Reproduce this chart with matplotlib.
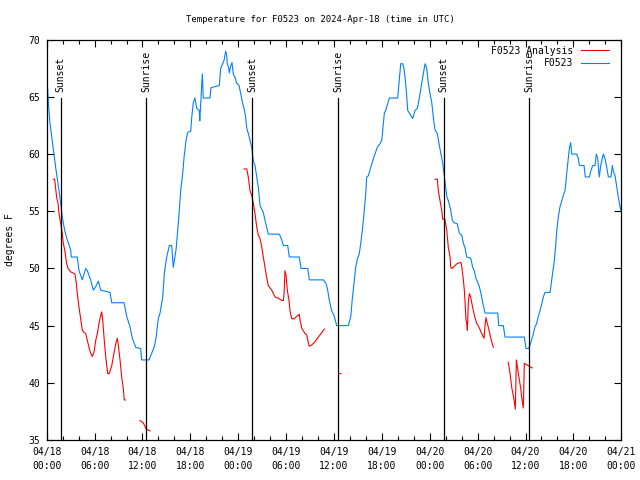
import numpy as np
import matplotlib
matplotlib.use("Agg")
import matplotlib.pyplot as plt
import matplotlib.transforms as mtransforms
from matplotlib.ticker import MultipleLocator, FixedLocator

# hours since 2024-04-18 00:00 UTC
obs_hours = [0.08, 0.25, 0.41, 0.58, 0.91, 1.13, 1.54, 1.75, 1.95, 2.26, 2.58, 3.01, 3.08, 3.83,
             4.05, 4.46, 4.89, 5.09, 5.51, 5.84, 6.14, 6.47, 6.77, 7.93, 8.15, 9.69, 10.03, 10.44,
             10.73, 11.15, 11.78, 11.90, 12.82, 13.45, 13.70, 13.98, 14.20, 14.54, 14.74, 15.04,
             15.36, 15.66, 15.86, 16.20, 16.49, 16.79, 17.04, 17.21, 17.46, 17.67, 18.05, 18.17,
             18.37, 18.58, 18.80, 19.12, 19.18, 19.34, 19.50, 19.62, 20.46, 20.59, 21.63, 21.80,
             22.06, 22.22, 22.43, 22.56, 22.63, 22.81, 22.88, 23.06, 23.22, 23.38, 23.60, 23.81,
             24.10, 24.31, 24.47, 24.72, 24.89, 25.06, 25.26, 25.48, 25.69, 25.89, 26.10, 26.32,
             26.52, 26.73, 27.14, 27.36, 27.57, 27.77, 29.15, 29.45, 29.65, 30.20, 30.40, 31.65,
             31.87, 32.71, 32.91, 34.66, 35.00, 35.21, 35.41, 35.71, 36.00, 36.34, 37.79, 38.10,
             38.30, 38.51, 38.72, 38.92, 39.17, 39.35, 39.55, 39.76, 39.97, 40.10, 40.30, 40.60,
             40.93, 41.14, 41.43, 41.77, 41.98, 42.11, 42.31, 42.52, 42.93, 43.98, 44.15, 44.36,
             44.61, 44.77, 45.03, 45.24, 45.53, 45.86, 46.15, 46.44, 46.69, 46.99, 47.19, 47.41,
             47.62, 47.82, 48.03, 48.25, 48.45, 48.66, 48.95, 49.16, 49.41, 49.62, 49.91, 50.13,
             50.33, 50.63, 50.83, 51.04, 51.45, 51.70, 52.01, 52.21, 52.42, 52.63, 53.13, 53.38,
             53.58, 53.80, 54.01, 54.21, 54.42, 54.64, 54.92, 56.52, 56.64, 57.22, 57.43, 59.85,
             60.06, 60.40, 60.56, 60.78, 60.98, 61.19, 61.40, 61.60, 61.81, 62.03, 62.23, 62.44,
             63.07, 63.28, 63.48, 63.61, 63.78, 63.91, 64.11, 64.32, 64.54, 64.74, 64.95, 65.16,
             65.36, 65.49, 65.66, 65.79, 66.42, 66.62, 66.74, 67.33, 67.49, 68.00, 68.17, 68.42,
             68.71, 68.87, 69.05, 69.17, 69.25, 69.42, 69.62, 69.75, 69.96, 70.18, 70.38, 70.71,
             70.88, 71.00, 71.22, 71.43, 71.63, 71.84, 71.93]
obs_temp = [66.0, 64.1, 62.7, 61.8, 60.0, 58.8, 56.8, 55.7, 54.5, 53.3, 52.5, 51.6, 51.0, 51.0,
            49.8, 49.0, 50.0, 49.8, 49.0, 48.1, 48.4, 48.9, 48.1, 47.9, 47.0, 47.0, 45.8, 44.9,
            43.9, 43.1, 43.0, 42.0, 42.0, 43.1, 43.9, 45.6, 46.1, 47.5, 49.6, 51.0,
            52.0, 52.0, 50.1, 51.6, 53.9, 56.8, 58.3, 59.7, 61.2, 61.9, 62.0, 63.2,
            64.5, 64.9, 64.0, 63.8, 62.9, 64.9, 67.0, 64.9, 64.9, 65.8, 66.0, 67.5,
            67.9, 68.2, 69.0, 68.6, 67.9, 67.5, 67.1, 67.7, 68.0, 67.0, 66.7, 66.2,
            66.0, 65.3, 64.7, 64.0, 63.4, 62.3, 61.8, 61.2, 60.6, 59.4, 59.0, 58.0,
            57.1, 55.5, 54.9, 54.2, 53.6, 53.0, 53.0, 52.5, 52.0, 52.0, 51.0, 51.0,
            50.0, 50.0, 49.0, 49.0, 48.7, 48.1, 47.2, 46.3, 45.9, 45.0, 45.0, 45.8,
            47.4, 48.7, 50.1, 50.8, 51.3, 52.2, 53.3, 54.8, 56.5, 58.0, 58.1, 58.8,
            59.6, 60.0, 60.6, 60.9, 61.2, 62.1, 63.6, 63.9, 64.9, 64.9, 66.2, 67.9,
            67.9, 67.5, 65.8, 63.8, 63.5, 63.1, 63.8, 64.0, 64.9, 66.2, 67.0, 67.9,
            67.5, 66.2, 65.3, 64.5, 63.2, 62.1, 61.8, 60.9, 60.0, 59.2, 57.6, 56.3,
            55.9, 55.1, 54.2, 54.0, 53.9, 53.1, 52.9, 52.2, 51.8, 51.0, 50.9, 50.1,
            49.8, 49.1, 48.8, 48.4, 47.8, 47.0, 46.1, 46.1, 45.0, 45.0, 44.0, 44.0,
            43.0, 43.0, 43.3, 43.8, 44.3, 44.9, 45.2, 45.8, 46.3, 46.9, 47.5, 47.9,
            47.9, 49.0, 50.0, 50.7, 52.0, 53.3, 54.5, 55.4, 55.9, 56.4, 56.8, 58.3,
            59.6, 60.5, 61.0, 60.0, 60.0, 59.6, 59.0, 59.0, 58.0, 58.0, 58.5, 59.0,
            59.0, 60.0, 59.6, 58.5, 58.0, 59.0, 59.6, 60.0, 59.6, 58.8, 58.0, 58.0,
            59.0, 58.5, 58.1, 57.1, 56.2, 55.4, 55.1]

# analysis series, nan = gap
ana_hours = [0.83, 1.00, 1.13, 1.25, 1.42, 1.54, 1.75, 1.95, 2.08, 2.26, 2.38, 2.51, 2.67, 3.01,
             3.33, 3.55, 3.71, 3.83, 4.05, 4.26, 4.46, 4.67, 4.89, 5.09, 5.30, 5.51, 5.71, 5.93,
             6.14, 6.34, 6.55, 6.77, 6.89, 7.02, 7.18, 7.39, 7.52, 7.64, 7.84, 8.15, 8.43, 8.68,
             8.85, 8.97, 9.19, 9.40, 9.60, 9.72, 9.85, np.nan,
             11.69, 12.11, 12.44, 12.61, 12.94, np.nan,
             24.72, 25.06, 25.26, 25.48, 25.69, 25.89, 26.10, 26.32, 26.52, 26.73, 26.94, 27.14,
             27.36, 27.57, 27.77, 28.20, 28.61, 29.02, 29.45, 29.65, 29.74, 29.86, 29.99, 30.15,
             30.36, 30.49, 30.70, 30.99, 31.33, 31.65, 31.74, 31.95, 32.37, 32.58, 32.78, 32.91,
             33.21, 33.62, 34.04, 34.46, 34.79, np.nan,
             36.63, 36.88, np.nan,
             48.66, 48.95, 49.07, 49.29, 49.50, 49.62, 49.91, 50.13, 50.33, 50.54, 50.63, 50.75,
             50.95, 51.38, 51.70, 51.92, 52.04, 52.21, 52.33, 52.42, 52.54, 52.63, 52.71, 52.83,
             52.96, 53.13, 53.26, 53.46, 53.67, 53.88, 54.21, 54.51, 54.80, 54.92, 55.05, 55.21,
             55.43, 55.64, 55.80, 55.96, np.nan,
             57.84, 58.06, 58.27, 58.56, 58.72, 58.85, 59.10, 59.40, 59.56, 59.72, 59.85, 60.35,
             60.85]
ana_temp = [57.8, 57.8, 57.0, 56.2, 55.7, 54.8, 53.9, 53.1, 52.2, 51.6, 51.0, 50.4, 50.0, 49.7,
            49.6, 49.5, 48.7, 47.8, 46.6, 45.6, 44.6, 44.4, 44.3, 43.7, 43.1, 42.6, 42.3, 42.7,
            43.7, 44.3, 45.2, 45.9, 46.2, 45.5, 44.0, 42.3, 41.5, 40.8, 40.8, 41.5, 42.6, 43.5,
            43.9, 43.3, 42.0, 40.5, 39.5, 38.5, 38.5, np.nan,
            36.7, 36.5, 36.0, 35.9, 35.8, np.nan,
            58.7, 58.7, 58.0, 56.8, 56.4, 55.7, 54.8, 53.6, 52.9, 52.6, 51.9, 51.0,
            50.1, 49.2, 48.5, 48.1, 47.5, 47.4, 47.2, 47.2, 47.8, 49.8, 49.4, 48.1,
            47.2, 46.3, 45.6, 45.6, 45.8, 46.0, 45.5, 44.8, 44.3, 44.2, 43.5, 43.2,
            43.3, 43.6, 44.0, 44.4, 44.7, np.nan,
            40.8, 40.8, np.nan,
            57.8, 57.8, 56.8, 55.9, 55.1, 54.3, 54.3, 53.3, 51.8, 51.0, 50.1, 50.0,
            50.1, 50.4, 50.5, 50.5, 50.0, 49.0, 48.1, 47.1, 45.5, 45.2, 44.6, 47.0,
            47.8, 47.5, 47.0, 46.3, 45.7, 45.2, 44.8, 44.3, 43.9, 45.0, 45.7, 45.2,
            44.6, 43.9, 43.5, 43.1, np.nan,
            41.8, 40.8, 39.6, 38.5, 37.7, 42.0, 40.8, 39.5, 38.5, 37.8, 41.7, 41.5,
            41.3]

sun_hours = [1.75, 12.48, 25.76, 36.54, 49.75, 60.48]
sun_labels = ["Sunset", "Sunrise", "Sunset", "Sunrise", "Sunset", "Sunrise"]

tick_hours = list(range(0, 73, 6))
tick_labels = ["04/18\n00:00", "04/18\n06:00", "04/18\n12:00", "04/18\n18:00",
               "04/19\n00:00", "04/19\n06:00", "04/19\n12:00", "04/19\n18:00",
               "04/20\n00:00", "04/20\n06:00", "04/20\n12:00", "04/20\n18:00",
               "04/21\n00:00"]

plt.rcParams['font.family'] = 'DejaVu Sans Mono'
plt.rcParams['font.size'] = 7

fig = plt.figure(figsize=(6.4, 4.8), dpi=100)
ax = fig.add_axes([46.7 / 640, 40 / 480, 574.6 / 640, 400.3 / 480])

ax.plot(ana_hours, ana_temp, color='#ff0000', lw=0.8, label='F0523 Analysis')
ax.plot(obs_hours, obs_temp, color='#0080ff', lw=0.8, label='F0523')

trans = mtransforms.blended_transform_factory(ax.transData, ax.transAxes)
for h, lab in zip(sun_hours, sun_labels):
    ax.plot([h, h], [0, 0.855], color='black', lw=0.9, transform=trans)
    ax.text(h, 0.87, lab, rotation=90, ha='center', va='bottom', transform=trans)

ax.set_xlim(0, 72)
ax.set_ylim(35, 70)
ax.xaxis.set_major_locator(FixedLocator(tick_hours))
ax.set_xticklabels(tick_labels, linespacing=1.5)
ax.xaxis.set_minor_locator(MultipleLocator(2))
ax.yaxis.set_major_locator(MultipleLocator(5))
ax.tick_params(which='both', direction='in', top=True, right=True, width=0.8)
ax.tick_params(which='major', length=5, pad=5)
ax.tick_params(which='minor', length=3)
for s in ax.spines.values():
    s.set_linewidth(0.9)

fig.text(0.5, 1 - 20 / 480, 'Temperature for F0523 on 2024-Apr-18 (time in UTC)',
         ha='center', va='center', fontsize=6.5)
fig.text(10 / 640, 0.5, 'degrees F', rotation=90, ha='center', va='center')

ax.legend(loc='upper right', bbox_to_anchor=(0.979, 0.985), frameon=False, markerfirst=False,
          handlelength=2.9, handletextpad=0.8, labelspacing=0.25, borderpad=0,
          borderaxespad=0)

fig.savefig('out.png', dpi=100)
